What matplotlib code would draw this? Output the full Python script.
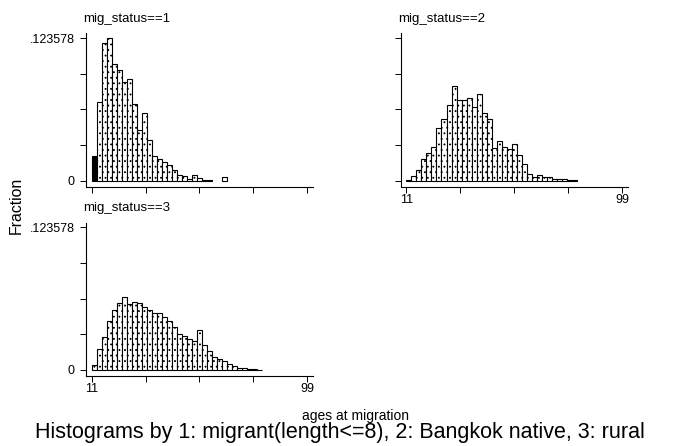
import numpy as np
import matplotlib.pyplot as plt

plt.rcParams['font.family'] = 'Liberation Sans'
plt.rcParams['hatch.color'] = '#808080'
plt.rcParams['hatch.linewidth'] = 0.6

# fraction per bin, 43 bins from 11 to 99
n_bins = 43
x_min, x_max = 11, 99
y_top = 0.123578

frac1 = [0.0214, 0.0679, 0.1190, 0.1236, 0.1008, 0.0956, 0.0852, 0.0878, 0.0661,
         0.0439, 0.0589, 0.0352, 0.0213, 0.0185, 0.0161, 0.0136, 0.0089, 0.0046,
         0.0037, 0.0012, 0.0046, 0.0020, 0.0010, 0.0010, 0.0, 0.0, 0.0032]
frac2 = [0.0003, 0.0040, 0.0091, 0.0184, 0.0244, 0.0294, 0.0454, 0.0531, 0.0655,
         0.0820, 0.0699, 0.0696, 0.0720, 0.0635, 0.0748, 0.0583, 0.0534, 0.0282,
         0.0340, 0.0291, 0.0274, 0.0315, 0.0220, 0.0145, 0.0062, 0.0036, 0.0048,
         0.0032, 0.0032, 0.0014, 0.0014, 0.0012, 0.0006, 0.0003]
frac3 = [0.0041, 0.0180, 0.0290, 0.0424, 0.0522, 0.0583, 0.0633, 0.0572, 0.0589,
         0.0577, 0.0542, 0.0520, 0.0490, 0.0492, 0.0455, 0.0424, 0.0372, 0.0311,
         0.0296, 0.0267, 0.0247, 0.0345, 0.0215, 0.0168, 0.0111, 0.0096, 0.0081,
         0.0055, 0.0035, 0.0020, 0.0015, 0.0009, 0.0006, 0.0004]

titles = ['mig_status==1', 'mig_status==2', 'mig_status==3']
xticks = [11, 33, 55, 77, 99]

W, H = 679, 446
fig = plt.figure(figsize=(W / 100, H / 100), dpi=100)

bw = (x_max - x_min) / n_bins
px_x = 227.3 / 92.78
px_y = 153.4 / 0.1329


def make_ax(left, top):
    w, h = 227.3, 153.4
    ax = fig.add_axes([left / W, 1 - (top + h) / H, w / W, h / H])
    ax.set_xlim(x_min - 5.7 / px_x, x_max + 6 / px_x)
    ax.set_ylim(-6 / px_y, y_top + 4.7 / px_y)
    for s in ['top', 'right']:
        ax.spines[s].set_visible(False)
    for s in ['left', 'bottom']:
        ax.spines[s].set_linewidth(0.8)
    ax.set_facecolor('none')
    ax.tick_params(direction='out', length=4.5, width=0.7, labelsize=9)
    ax.tick_params(axis='y', pad=3.5)
    ax.tick_params(axis='x', pad=0.5)
    return ax


panels = [(86, 33.3), (400.7, 33.3), (86, 222.6)]
data = [frac1, frac2, frac3]

for i, (pos, vals) in enumerate(zip(panels, data)):
    ax = make_ax(*pos)
    vals = np.array(vals)
    lefts = x_min + bw * np.arange(len(vals))
    keep = vals > 0
    faces = ['white'] * len(vals)
    if i == 0:
        faces[0] = 'black'
    faces = np.array(faces)[keep]
    ax.bar(lefts[keep], vals[keep], width=bw, align='edge', color=faces,
           edgecolor='black', linewidth=0.8, hatch='...')
    ax.set_yticks(np.linspace(0, y_top, 5))
    ax.set_xticks(xticks)
    if i == 1:
        ax.set_yticklabels([''] * 5)
    else:
        ax.set_yticklabels(['0', '', '', '', '.123578'])
    if i == 0:
        ax.set_xticklabels([''] * 5)
    else:
        ax.set_xticklabels(['11', '', '', '', '99'])
    ax.set_title(titles[i], loc='left', fontsize=9.5, pad=8.3, x=-0.012)

fig.text(16 / W, 1 - 205 / H, 'Fraction', rotation=90, ha='center', va='center',
         fontsize=11.4)
fig.text(355 / W, 1 - 420 / H, 'ages at migration', ha='center', va='baseline',
         fontsize=10)
fig.text(339.5 / W, 1 - 438 / H,
         'Histograms by 1: migrant(length<=8), 2: Bangkok native, 3: rural',
         ha='center', va='baseline', fontsize=15.5)

fig.savefig('out.png', dpi=100)
